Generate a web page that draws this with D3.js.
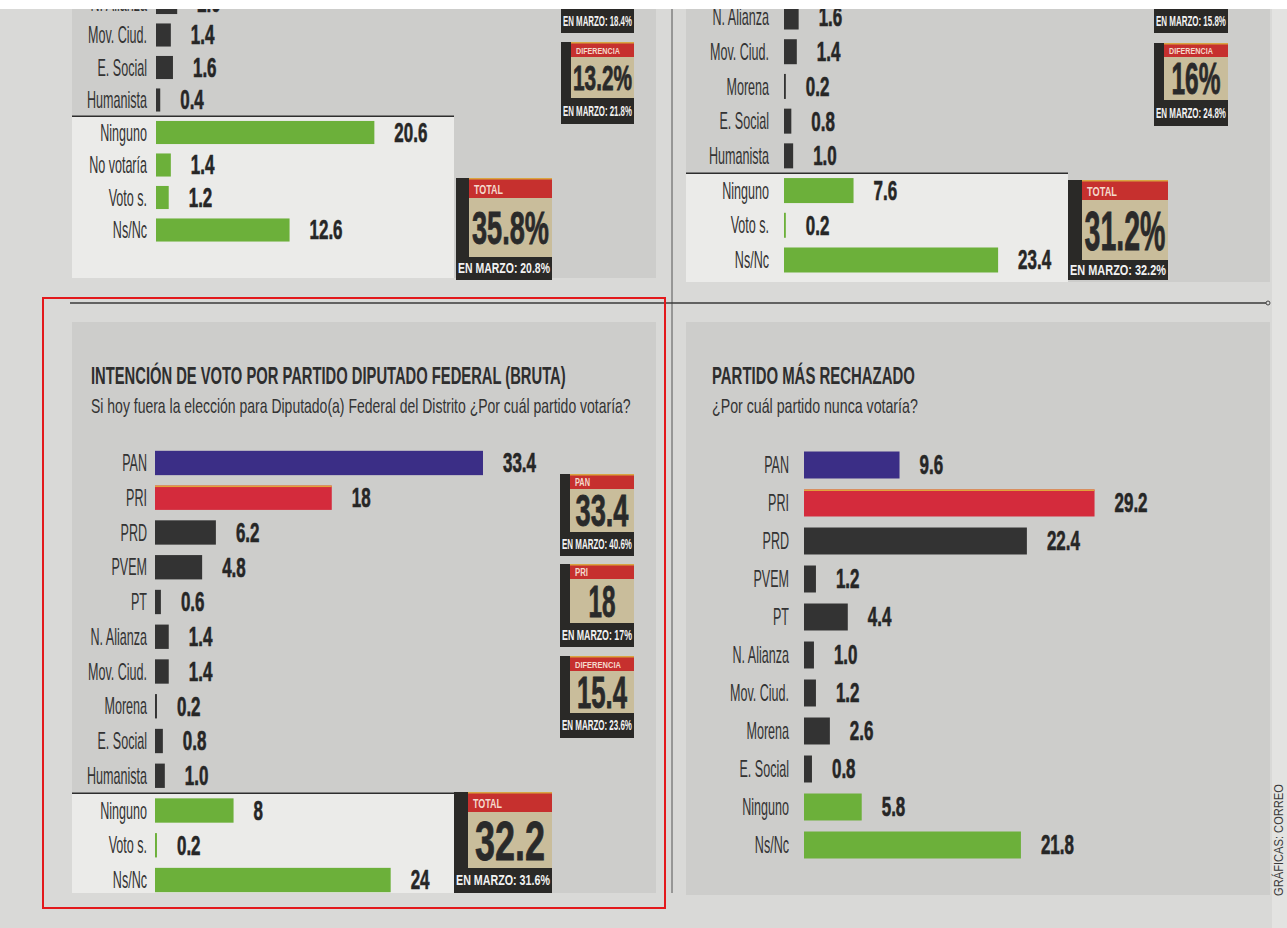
<!DOCTYPE html>
<html>
<head>
<meta charset="utf-8">
<script src="https://cdn.jsdelivr.net/npm/d3@7"></script>
<style>
  body { margin: 0; background: #fff; }
  svg { display: block; }
</style>
</head>
<body>
<div id="chart"></div>
<script>
// values (strings keep the printed format)
const tlCats = ["N. Alianza", "Mov. Ciud.", "E. Social", "Humanista", "Ninguno", "No votaría", "Voto s.", "Ns/Nc"];
const tlVals = ["2.0", "1.4", "1.6", "0.4", "20.6", "1.4", "1.2", "12.6"];

const trCats = ["N. Alianza", "Mov. Ciud.", "Morena", "E. Social", "Humanista", "Ninguno", "Voto s.", "Ns/Nc"];
const trVals = ["1.6", "1.4", "0.2", "0.8", "1.0", "7.6", "0.2", "23.4"];

const blCats = ["PAN", "PRI", "PRD", "PVEM", "PT", "N. Alianza", "Mov. Ciud.", "Morena", "E. Social", "Humanista", "Ninguno", "Voto s.", "Ns/Nc"];
const blVals = ["33.4", "18", "6.2", "4.8", "0.6", "1.4", "1.4", "0.2", "0.8", "1.0", "8", "0.2", "24"];

const brCats = ["PAN", "PRI", "PRD", "PVEM", "PT", "N. Alianza", "Mov. Ciud.", "Morena", "E. Social", "Ninguno", "Ns/Nc"];
const brVals = ["9.6", "29.2", "22.4", "1.2", "4.4", "1.0", "1.2", "2.6", "0.8", "5.8", "21.8"];

// side boxes
const tlBoxHeads = ["", "DIFERENCIA", "TOTAL"];
const tlBoxNums = ["", "13.2%", "35.8%"];
const tlBoxMarzo = ["18.4%", "21.8%", "20.8%"];

const trBoxHeads = ["", "DIFERENCIA", "TOTAL"];
const trBoxNums = ["", "16%", "31.2%"];
const trBoxMarzo = ["15.8%", "24.8%", "32.2%"];

const blBoxHeads = ["PAN", "PRI", "DIFERENCIA", "TOTAL"];
const blBoxNums = ["33.4", "18", "15.4", "32.2"];
const blBoxMarzo = ["40.6%", "17%", "23.6%", "31.6%"];

const W = 1287, H = 928;
const FONT = "'Liberation Sans Narrow','Liberation Sans',Arial,sans-serif";
const greens = ["Ninguno", "No votaría", "Voto s.", "Ns/Nc"];
const color = c => c === "PAN" ? "#3b2e86" : c === "PRI" ? "#d42b3c" : greens.includes(c) ? "#6cb03a" : "#333333";

const svg = d3.select("#chart").append("svg").attr("width", W).attr("height", H);

// measure so the condensed newspaper look survives whatever font is there
function measure(str, size, weight) {
  const t = svg.append("text").attr("font-family", FONT).attr("font-size", size)
    .attr("font-weight", weight).text(str);
  const w = t.node().getComputedTextLength();
  t.remove();
  return w;
}
const sxLabel = 60 / measure("Humanista", 23, 400);
const sxValue = 33 / measure("33.4", 27, 700);

function put(g, x, y, str, o) {
  let sx = o.sx || 1;
  if (o.len) sx = o.len / measure(str, o.size, o.weight || 400);
  const t = g.append("text")
    .attr("transform", "translate(" + x + "," + y + ")" + (o.rot ? " rotate(" + o.rot + ")" : "") + " scale(" + sx + ",1)")
    .attr("text-anchor", o.anchor || "start")
    .attr("dy", o.dy !== undefined ? o.dy : "0.35em")
    .attr("font-family", FONT)
    .attr("font-size", o.size)
    .attr("font-weight", o.weight || 400)
    .attr("fill", o.fill || "#2b2b2b")
    .text(str);
  if (o.stroke) t.attr("stroke", o.fill).attr("stroke-width", o.stroke);
  return t;
}

// page + panels
svg.append("rect").attr("x", 0).attr("y", 0).attr("width", W).attr("height", H).attr("fill", "#d9d9d7");
svg.append("rect").attr("x", 1272).attr("y", 0).attr("width", 15).attr("height", H).attr("fill", "#e3e3e1");
const panels = [[72, 0, 584, 278], [686, 0, 584, 282], [72, 322, 584, 571], [686, 322, 584, 573]];
svg.selectAll(".panel").data(panels).enter().append("rect")
  .attr("class", "panel")
  .attr("x", d => d[0]).attr("y", d => d[1]).attr("width", d => d[2]).attr("height", d => d[3])
  .attr("fill", "#cdcdcb");

function barPanel(cats, vals, o) {
  const g = svg.append("g");
  const y = d3.scaleBand().domain(cats).range([o.y0, o.y1]).paddingInner(o.pad).paddingOuter(o.pad / 2);
  const x = d3.scaleLinear().domain([0, 20]).range([o.x0, o.x0 + 20 * o.ppu]);
  const rows = cats.map((c, i) => ({ c: c, v: +vals[i], s: vals[i] }));

  // light box behind Ninguno / Ns/Nc block
  if (o.box) {
    const first = rows.find(r => greens.includes(r.c)).c;
    const top = y(first) - y.step() * o.pad / 2;
    g.append("rect").attr("x", o.box[0]).attr("y", top).attr("width", o.box[1] - o.box[0])
      .attr("height", o.box[2] - top).attr("fill", "#ebebe9");
    g.append("line").attr("x1", o.box[0]).attr("x2", o.box[1]).attr("y1", top).attr("y2", top)
      .attr("stroke", "#2e2e2e").attr("stroke-width", 1.5);
  }

  g.selectAll(".bar").data(rows).enter().append("rect")
    .attr("class", "bar")
    .attr("x", x(0)).attr("y", d => y(d.c))
    .attr("width", d => x(d.v) - x(0)).attr("height", y.bandwidth())
    .attr("fill", d => color(d.c));
  // thin gold edge on the PRI bar
  g.selectAll(".edge").data(rows.filter(d => d.c === "PRI")).enter().append("rect")
    .attr("x", x(0)).attr("y", d => y(d.c)).attr("width", d => x(d.v) - x(0)).attr("height", 1.5)
    .attr("fill", "#e2a23a");

  rows.forEach(d => {
    const cy = y(d.c) + y.bandwidth() / 2;
    put(g, o.lx, cy, d.c, { anchor: "end", size: 23, sx: sxLabel, fill: "#333" });
    put(g, x(d.v) + 20, cy, d.s, { size: 27, weight: 700, sx: sxValue, fill: "#262626", stroke: 0.6 });
  });
  return g;
}

barPanel(tlCats, tlVals, { y0: -13.75, y1: 246.25, pad: 0.29, x0: 156, ppu: 10.6, lx: 147, box: [72, 454, 278] });
barPanel(trCats, trVals, { y0: -0.35, y1: 277.35, pad: 0.28, x0: 784, ppu: 9.15, lx: 769, box: [686, 1068, 282] });
barPanel(blCats, blVals, { y0: 445.6, y1: 897.4, pad: 0.3, x0: 155, ppu: 9.82, lx: 147, box: [72, 454, 893] });
barPanel(brCats, brVals, { y0: 446, y1: 864, pad: 0.29, x0: 804, ppu: 9.95, lx: 789 });

// boxes: x, y, w, h, left bar, header h, bottom h, header size/width, number size/width
function infoBox(b, head, num, marzo) {
  const g = svg.append("g");
  const ix = b.x + b.lb, iw = b.w - b.lb, tanH = b.h - b.hh - b.bh;
  g.append("rect").attr("x", b.x).attr("y", b.y).attr("width", b.w).attr("height", b.h).attr("fill", "#2a2927");
  g.append("rect").attr("x", ix).attr("y", b.y).attr("width", iw).attr("height", b.hh).attr("fill", "#c6302e");
  g.append("rect").attr("x", ix).attr("y", b.y).attr("width", iw).attr("height", 1.5).attr("fill", "#d9a441");
  g.append("rect").attr("x", ix).attr("y", b.y + b.hh).attr("width", iw).attr("height", tanH).attr("fill", "#c9bd9b");
  if (head) put(g, ix + 5, b.y + b.hh / 2 + 1, head, { size: b.hs, weight: 700, fill: "#f4d9cc", len: b.hw });
  if (num) put(g, ix + iw / 2, b.y + b.hh + tanH / 2 + 0.36 * b.ns, num,
    { anchor: "middle", dy: 0, size: b.ns, weight: 700, fill: "#2a2a2a", len: b.nw, stroke: 0.8 });
  put(g, b.x + b.w / 2, b.y + b.h - b.bh / 2, "EN MARZO: " + marzo,
    { anchor: "middle", size: 14, weight: 700, fill: "#f2f2f2", len: b.w - 4 });
}

const tlBoxLayout = [
  { x: 561, y: -60, w: 73, h: 93, lb: 10, hh: 15, bh: 24, hs: 9, hw: 0, ns: 30, nw: 0 },
  { x: 561, y: 42, w: 73, h: 82, lb: 10, hh: 15, bh: 26, hs: 9, hw: 44, ns: 35, nw: 59 },
  { x: 456, y: 178, w: 96, h: 102, lb: 13, hh: 20, bh: 23, hs: 13, hw: 29, ns: 46, nw: 77 }
];
const trBoxLayout = [
  { x: 1154, y: -60, w: 74, h: 93, lb: 10, hh: 15, bh: 24, hs: 9, hw: 0, ns: 30, nw: 0 },
  { x: 1154, y: 43, w: 74, h: 83, lb: 10, hh: 14, bh: 26, hs: 9, hw: 44, ns: 44, nw: 49 },
  { x: 1068, y: 180, w: 100, h: 100, lb: 14, hh: 20, bh: 20, hs: 13, hw: 30, ns: 55, nw: 81 }
];
const blBoxLayout = [
  { x: 560, y: 474, w: 74, h: 82, lb: 10, hh: 15, bh: 24, hs: 10, hw: 15, ns: 44, nw: 53 },
  { x: 560, y: 564, w: 74, h: 83, lb: 10, hh: 15, bh: 24, hs: 10, hw: 13, ns: 44, nw: 27 },
  { x: 560, y: 656, w: 74, h: 82, lb: 10, hh: 15, bh: 25, hs: 9, hw: 46, ns: 44, nw: 50 },
  { x: 454, y: 792, w: 98, h: 101, lb: 14, hh: 20, bh: 25, hs: 13, hw: 29, ns: 56, nw: 70 }
];
tlBoxLayout.forEach((b, i) => infoBox(b, tlBoxHeads[i], tlBoxNums[i], tlBoxMarzo[i]));
trBoxLayout.forEach((b, i) => infoBox(b, trBoxHeads[i], trBoxNums[i], trBoxMarzo[i]));
blBoxLayout.forEach((b, i) => infoBox(b, blBoxHeads[i], blBoxNums[i], blBoxMarzo[i]));

// titles
const tg = svg.append("g");
put(tg, 91, 384, "INTENCIÓN DE VOTO POR PARTIDO  DIPUTADO FEDERAL (BRUTA)", { dy: 0, size: 24, weight: 700, fill: "#2e2e2e", len: 475 });
put(tg, 91, 413, "Si hoy fuera la elección para Diputado(a) Federal del Distrito ¿Por cuál partido votaría?", { dy: 0, size: 20, fill: "#333", len: 540 });
put(tg, 712, 384, "PARTIDO MÁS RECHAZADO", { dy: 0, size: 24, weight: 700, fill: "#2e2e2e", len: 203 });
put(tg, 712, 413, "¿Por cuál partido nunca votaría?", { dy: 0, size: 20, fill: "#333", len: 206 });

// rules
svg.append("line").attr("x1", 672).attr("x2", 672).attr("y1", 0).attr("y2", 893).attr("stroke", "#555").attr("stroke-width", 1);
svg.append("line").attr("x1", 70).attr("x2", 1266).attr("y1", 303).attr("y2", 303).attr("stroke", "#3a3a3a").attr("stroke-width", 1.5);
svg.append("circle").attr("cx", 1268).attr("cy", 303).attr("r", 2).attr("fill", "none").attr("stroke", "#444");

// red highlight frame
svg.append("rect").attr("x", 43).attr("y", 298).attr("width", 622).attr("height", 610)
  .attr("fill", "none").attr("stroke", "#e3191c").attr("stroke-width", 2);

// credit
put(svg, 1279, 840, "GRÁFICAS: CORREO", { size: 12, fill: "#3a3a3a", len: 112, anchor: "middle", rot: -90 });

// white top edge of the scan
svg.append("rect").attr("x", 0).attr("y", 0).attr("width", W).attr("height", 9).attr("fill", "#fff");
</script>
</body>
</html>
